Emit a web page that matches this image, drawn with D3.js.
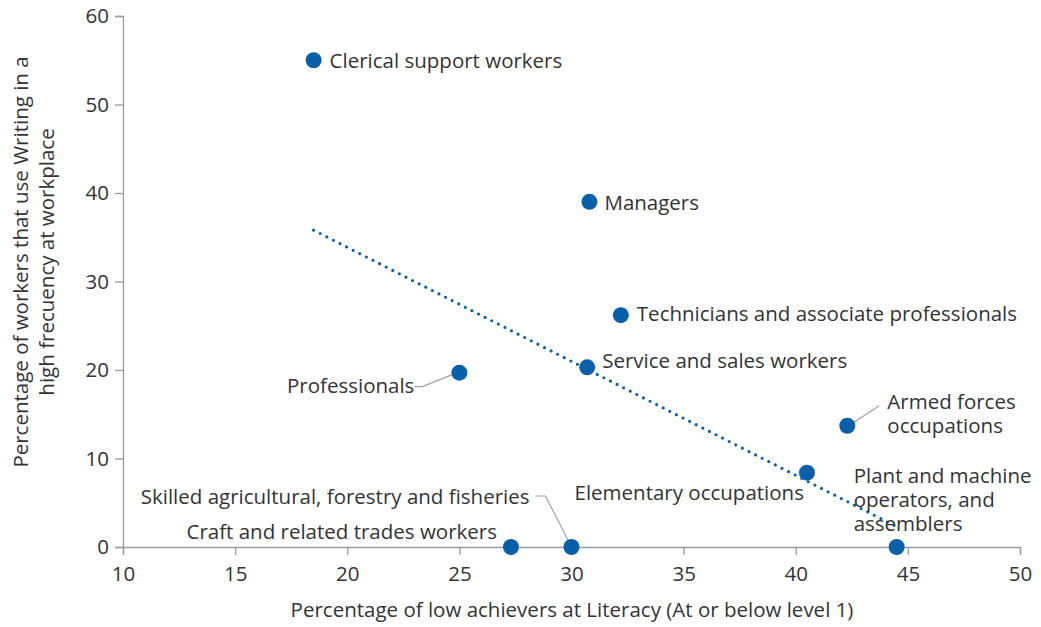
<!DOCTYPE html>
<html>
<head>
<meta charset="utf-8">
<script src="https://cdn.jsdelivr.net/npm/d3@7"></script>
<style>
  html, body { margin: 0; padding: 0; background: #fff; }
  svg text { font-family: "Open Sans", "Noto Sans", sans-serif; fill: #333; }
</style>
</head>
<body>
<svg id="chart" width="1041" height="627"></svg>
<script>
// Occupations: share of low achievers in literacy vs. frequent writing use
const occupations = [
  "Clerical support workers",
  "Managers",
  "Technicians and associate professionals",
  "Service and sales workers",
  "Professionals",
  "Armed forces occupations",
  "Elementary occupations",
  "Plant and machine operators, and assemblers",
  "Skilled agricultural, forestry and fisheries",
  "Craft and related trades workers"
];
const lowAchievers = [18.5, 30.8, 32.2, 30.7, 25.0, 42.3, 40.5, 44.5, 30.0, 27.3];
const writingUse   = [55.0, 39.0, 26.2, 20.3, 19.7, 13.7, 8.4, 0.0, 0.0, 0.0];

// Label text lines for each occupation (same order as above)
const labelLines = [
  ["Clerical support workers"],
  ["Managers"],
  ["Technicians and associate professionals"],
  ["Service and sales workers"],
  ["Professionals"],
  ["Armed forces", "occupations"],
  ["Elementary occupations"],
  ["Plant and machine", "operators, and", "assemblers"],
  ["Skilled agricultural, forestry and fisheries"],
  ["Craft and related trades workers"]
];

// Trend line end points (x, y)
const trendX = [18.5, 44.5];
const trendY = [35.8, 2.3];

const xTicks = [10, 15, 20, 25, 30, 35, 40, 45, 50];
const yTicks = [0, 10, 20, 30, 40, 50, 60];

const xTitle = "Percentage of low achievers at Literacy (At or below level 1)";
const yTitleLines = ["Percentage of workers that use Writing in a", "high frecuency at workplace"];

const svg = d3.select("#chart");
const margin = { left: 123, right: 21, top: 16, bottom: 80 };
const W = 1041, H = 627;
const fs = "20.5px";

const x = d3.scaleLinear().domain([10, 50]).range([margin.left, W - margin.right]);
const y = d3.scaleLinear().domain([0, 60]).range([H - margin.bottom, margin.top]);

const axisColor = "#9a9a9a";
const blue = "#0860ab";

// Axes
const xAxis = svg.append("g")
  .attr("transform", `translate(0,${y(0)})`)
  .call(d3.axisBottom(x).tickValues(xTicks).tickSize(8).tickPadding(11).tickFormat(d3.format("d")));
const yAxis = svg.append("g")
  .attr("transform", `translate(${x(10)},0)`)
  .call(d3.axisLeft(y).tickValues(yTicks).tickSize(8).tickPadding(6).tickFormat(d3.format("d")));
[xAxis, yAxis].forEach(g => {
  g.select(".domain").attr("stroke", axisColor).attr("stroke-width", 1.3);
  g.selectAll(".tick line").attr("stroke", axisColor).attr("stroke-width", 1.3);
  g.selectAll(".tick text").style("font-size", fs).attr("fill", "#333");
});

// Axis titles
svg.append("text")
  .attr("x", 572).attr("y", 617)
  .attr("text-anchor", "middle")
  .style("font-size", fs)
  .text(xTitle);
const yTitle = svg.append("text")
  .attr("transform", "translate(28,262) rotate(-90)")
  .attr("text-anchor", "middle")
  .style("font-size", fs);
yTitleLines.forEach((t, i) => {
  yTitle.append("tspan").attr("x", 0).attr("dy", i === 0 ? 0 : 26).text(t);
});

// Trend line (dotted)
svg.append("line")
  .attr("x1", x(trendX[0])).attr("y1", y(trendY[0]))
  .attr("x2", x(trendX[1])).attr("y2", y(trendY[1]))
  .attr("stroke", blue)
  .attr("stroke-width", 3.2)
  .attr("stroke-linecap", "round")
  .attr("stroke-dasharray", "0 7.4");

// Label placement: offsets from each point (dx, dy to first line centre), anchor, leader
const placement = [
  { dx: 16, dy: 0, anchor: "start" },
  { dx: 15, dy: 0, anchor: "start" },
  { dx: 16, dy: -2, anchor: "start" },
  { dx: 15, dy: -7, anchor: "start" },
  { dx: -45, dy: 12, anchor: "end", leader: [[-2, 0], [-37, 14], [-45, 14]] },
  { dx: 40, dy: -25, anchor: "start", leader: [[-2, 2], [32, -20]] },
  { dx: -3, dy: 19, anchor: "end" },
  { dx: -43, dy: -72, anchor: "start" },
  { dx: -42, dy: -51, anchor: "end", leader: [[0, 0], [-26, -51], [-36, -51]] },
  { dx: -14, dy: -16, anchor: "end" }
];

const data = occupations.map((name, i) => ({
  name, xv: lowAchievers[i], yv: writingUse[i], lines: labelLines[i], p: placement[i]
}));

// Leader lines
svg.append("g").selectAll("path")
  .data(data.filter(d => d.p.leader))
  .join("path")
  .attr("d", d => d3.line()(d.p.leader.map(([a, b]) => [x(d.xv) + a, y(d.yv) + b])))
  .attr("fill", "none")
  .attr("stroke", "#a0a0a0")
  .attr("stroke-width", 1.2);

// Points
svg.append("g").selectAll("circle")
  .data(data)
  .join("circle")
  .attr("cx", d => x(d.xv))
  .attr("cy", d => y(d.yv))
  .attr("r", 8)
  .attr("fill", blue);

// Labels
const labels = svg.append("g").selectAll("text")
  .data(data)
  .join("text")
  .attr("text-anchor", d => d.p.anchor)
  .attr("dominant-baseline", "central")
  .style("font-size", fs);
labels.each(function (d) {
  const t = d3.select(this);
  d.lines.forEach((line, i) => {
    t.append("tspan")
      .attr("x", x(d.xv) + d.p.dx)
      .attr("y", y(d.yv) + d.p.dy + i * 24)
      .text(line);
  });
});
</script>
</body>
</html>
